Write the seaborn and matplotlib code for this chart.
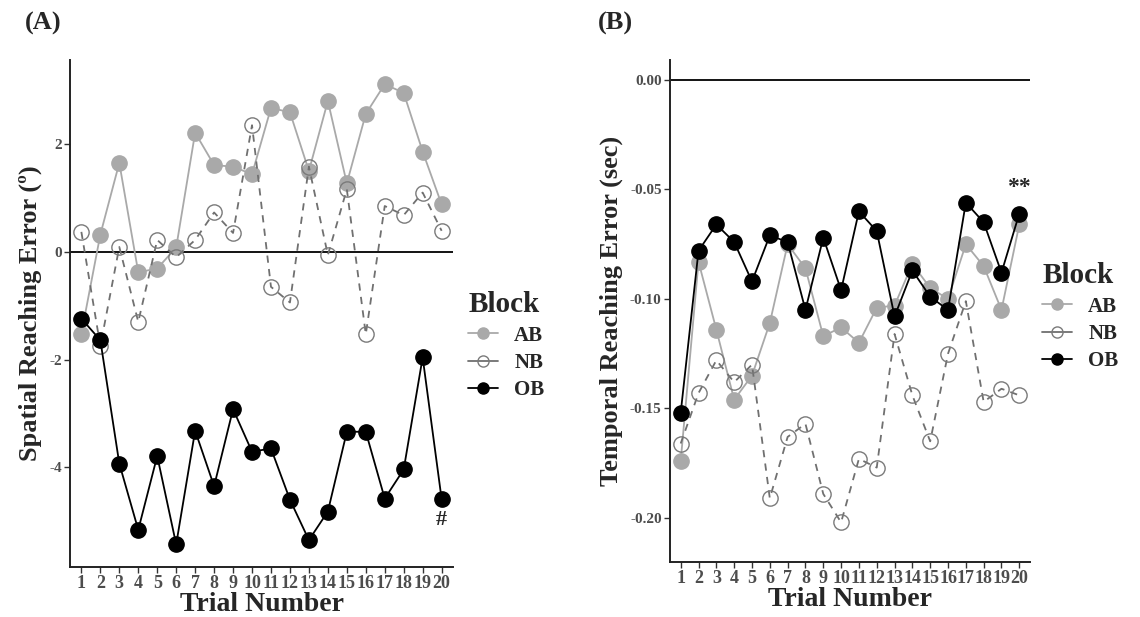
import matplotlib
matplotlib.use('Agg')
import matplotlib.pyplot as plt
from matplotlib.lines import Line2D
import seaborn as sns
import pandas as pd

# data
trials = list(range(1, 21))
blocks = ['AB', 'NB', 'OB']

spatial_ab = [-1.52, 0.32, 1.65, -0.38, -0.31, 0.08, 2.21, 1.61, 1.58, 1.44,
              2.67, 2.59, 1.50, 2.80, 1.27, 2.56, 3.11, 2.95, 1.86, 0.88]
spatial_nb = [0.37, -1.75, 0.09, -1.30, 0.22, -0.10, 0.22, 0.73, 0.35, 2.35,
              -0.65, -0.94, 1.58, -0.06, 1.16, -1.53, 0.85, 0.68, 1.10, 0.39]
spatial_ob = [-1.24, -1.64, -3.93, -5.16, -3.79, -5.43, -3.32, -4.35, -2.92, -3.71,
              -3.65, -4.60, -5.35, -4.82, -3.34, -3.34, -4.58, -4.04, -1.96, -4.59]

temporal_ab = [-0.174, -0.083, -0.114, -0.146, -0.135, -0.111, -0.075, -0.086, -0.117, -0.113,
               -0.120, -0.104, -0.103, -0.084, -0.095, -0.100, -0.075, -0.085, -0.105, -0.066]
temporal_nb = [-0.166, -0.143, -0.128, -0.138, -0.130, -0.191, -0.163, -0.157, -0.189, -0.202,
               -0.173, -0.177, -0.116, -0.144, -0.165, -0.125, -0.101, -0.147, -0.141, -0.144]
temporal_ob = [-0.152, -0.078, -0.066, -0.074, -0.092, -0.071, -0.074, -0.105, -0.072, -0.096,
               -0.060, -0.069, -0.108, -0.087, -0.099, -0.105, -0.056, -0.065, -0.088, -0.061]

spatial_yticks = [-4, -2, 0, 2]
temporal_yticks = [-0.20, -0.15, -0.10, -0.05, 0.00]
temporal_yticklabels = ['-0.20', '-0.15', '-0.10', '-0.05', '0.00']


def to_long(ab, nb, ob):
    frames = []
    for name, vals in zip(blocks, [ab, nb, ob]):
        frames.append(pd.DataFrame({'Trial': trials, 'Error': vals, 'Block': name}))
    return pd.concat(frames, ignore_index=True)


spatial = to_long(spatial_ab, spatial_nb, spatial_ob)
temporal = to_long(temporal_ab, temporal_nb, temporal_ob)

styles = {
    'AB': dict(color='#a9a9a9', mfc='#a9a9a9', mec='#a9a9a9', ls='-'),
    'NB': dict(color='#707070', mfc='none', mec='#7a7a7a', ls='--'),
    'OB': dict(color='black', mfc='black', mec='black', ls='-'),
}

sns.set_style('ticks')
plt.rcParams['font.family'] = ['Liberation Serif', 'DejaVu Serif']
plt.rcParams['font.weight'] = 'bold'

fig = plt.figure(figsize=(11.4, 6.17), dpi=100)
ax_a = fig.add_axes([70 / 1140, 50 / 617, 383 / 1140, 507 / 617])
ax_b = fig.add_axes([670 / 1140, 55 / 617, 360 / 1140, 502 / 617])


def draw_panel(ax, data, ylabel):
    ax.axhline(0, color='black', lw=1.3, zorder=1)
    for b in blocks:
        st = styles[b]
        sub = data[data['Block'] == b]
        sns.lineplot(data=sub, x='Trial', y='Error', ax=ax, color=st['color'],
                     marker='o', markersize=11, markerfacecolor=st['mfc'],
                     markeredgecolor=st['mec'], markeredgewidth=1.0,
                     linewidth=1.3, zorder=3)
        line = ax.lines[-1]
        if st['ls'] == '--':
            line.set_linestyle((0, (4, 3.5)))

    ax.set_xlim(0.4, 20.6)
    ax.set_xticks(trials)
    ax.set_xticklabels([str(t) for t in trials], fontsize=13, color='#4d4d4d',
                       fontweight='bold')
    ax.set_xlabel('Trial Number', fontsize=20, fontweight='bold', labelpad=0)
    ax.set_ylabel(ylabel, fontsize=19, fontweight='bold', labelpad=5)
    ax.tick_params(axis='both', direction='out', length=4, width=1,
                   color='#333333', pad=2)
    sns.despine(ax=ax)
    for sp in ['left', 'bottom']:
        ax.spines[sp].set_linewidth(1.4)
        ax.spines[sp].set_color('#222222')
    ax.grid(False)


draw_panel(ax_a, spatial, 'Spatial Reaching Error (º)')
ax_a.set_ylim(-5.85, 3.56)
ax_a.set_yticks(spatial_yticks)
ax_a.set_yticklabels([str(t) for t in spatial_yticks], fontsize=11,
                     color='#4d4d4d', fontweight='bold')
ax_a.text(20, -4.98, '#', ha='center', va='center', fontsize=16, fontweight='bold')

draw_panel(ax_b, temporal, 'Temporal Reaching Error (sec)')
ax_b.set_ylim(-0.2201, 0.0091)
ax_b.set_yticks(temporal_yticks)
ax_b.set_yticklabels(temporal_yticklabels, fontsize=11, color='#4d4d4d',
                     fontweight='bold')
ax_b.text(20, -0.049, '**', ha='center', va='center', fontsize=17, fontweight='bold')

fig.text(25 / 1140, 1 - 23 / 617, '(A)', fontsize=19, fontweight='bold', va='center')
fig.text(598 / 1140, 1 - 23 / 617, '(B)', fontsize=19, fontweight='bold', va='center')

# legends
handles = []
for b in blocks:
    st = styles[b]
    handles.append(Line2D([0], [0], color=st['color'], ls='-', lw=1.3, marker='o',
                          markersize=8, markerfacecolor=st['mfc'],
                          markeredgecolor=st['mec'], markeredgewidth=1.0))

for anchor in [(458 / 1140, 1 - 281 / 617), (1032 / 1140, 1 - 252 / 617)]:
    leg = fig.legend(handles, blocks, title='Block', loc='upper left',
                     bbox_to_anchor=anchor, frameon=False, borderpad=0,
                     handlelength=1.4, handletextpad=0.8, labelspacing=0.35,
                     prop={'size': 15, 'weight': 'bold'},
                     title_fontproperties={'size': 21, 'weight': 'bold'},
                     alignment='left')

fig.savefig('out.png', dpi=100)
